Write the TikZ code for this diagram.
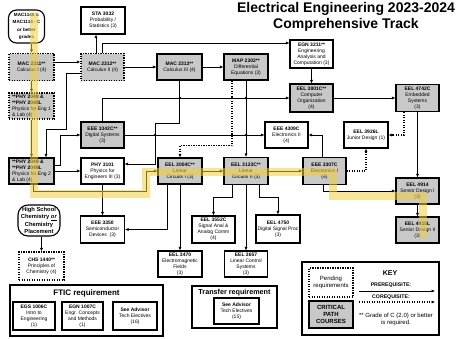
\documentclass[tikz,border=0pt]{standalone}
\usepackage{fontspec}
\setmainfont{Liberation Sans}
\usetikzlibrary{arrows.meta}
\definecolor{critgray}{RGB}{200,200,200}
\definecolor{hl}{RGB}{240,205,60}
\begin{document}
\begin{tikzpicture}[x=1pt,y=-1pt,
  box/.style={draw, line width=1.1pt, align=center, inner sep=0pt, minimum width=44pt, minimum height=26pt, fill=white, font=\fontsize{5}{6}\selectfont},
  crit/.style={box, fill=critgray},
  dbox/.style={box, dash pattern=on 1.4pt off 1.1pt, line width=1.3pt},
  dcrit/.style={dbox, fill=critgray},
  rbox/.style={draw, line width=1.1pt, rounded corners=8pt, align=center, inner sep=0pt, fill=white, font=\fontsize{4.6}{7.3}\selectfont\bfseries},
  outerbox/.style={draw, line width=1.3pt, inner sep=0pt},
  arr/.style={draw, line width=1pt, -{Latex[length=3.5pt,width=3.2pt]}},
  coarr/.style={arr, dash pattern=on 1.3pt off 1.2pt, line width=1.2pt},
  jdot/.style={fill=black},
  ttl/.style={font=\fontsize{14}{16}\selectfont\bfseries, anchor=base, inner sep=0pt}
]
\useasboundingbox (0,0) rectangle (474,338);

% title
\node[ttl] (t1) at (346,12) {Electrical Engineering 2023-2024};
\node[ttl] (t2) at (346,28.5) {Comprehensive Track};

% course boxes
\node[rbox, minimum width=36pt, minimum height=33pt] (mac1140) at (26.5,26.5) {MAC1140 \&\\MAC1114 - C\\or better\\grades};
\node[box, minimum height=27pt] (sta) at (103,20.5) {\textbf{STA 3032}\\Probability /\\Statistics (3)};
\node[dcrit, minimum width=45pt, minimum height=27pt] (mac2311) at (31.5,67) {\textbf{MAC 2311**}\\Calculus I (4)};
\node[dcrit, minimum width=43pt, minimum height=27pt] (mac2312) at (102.5,67) {\textbf{MAC 2312**}\\Calculus II (4)};
\node[crit, minimum width=45pt] (mac2313) at (179.5,67) {\textbf{MAC 2313**}\\Calculus III (4)};
\node[crit] (map2302) at (246,67) {\textbf{MAP 2302**}\\Differential\\Equations (3)};
\node[box, minimum width=43pt, minimum height=28pt] (egn3211) at (311.5,54) {\textbf{EGN 3211**}\\Engineering\\Analysis and\\Computation (3)};
\node[crit, minimum width=43pt, minimum height=28pt] (eel3801) at (311.5,98) {\textbf{EEL 3801C**}\\Computer\\Organization\\(4)};
\node[crit, minimum width=43pt, minimum height=27pt] (eel4742) at (417.5,98) {\textbf{EEL 4742C}\\Embedded\\Systems\\(3)};
\node[dcrit, minimum width=45pt, align=left] (phy2048) at (31.5,106) {\textbf{**PHY 2048 \&}\\\textbf{**PHY 2048L}\\Physics for Eng 1\\\& Lab (4)};
\node[crit, minimum width=43pt] (eee3342) at (102.5,135) {\textbf{EEE 3342C**}\\Digital Systems\\(3)};
\node[box, minimum width=43pt] (eee4309) at (286.5,135) {\textbf{EEE 4309C}\\Electronics II\\(4)};
\node[box] (eel3926) at (366,135) {\textbf{EEL 3926L}\\Junior Design (1)};
\node[crit, minimum width=45pt, align=left] (phy2049) at (31.5,171) {\textbf{**PHY 2049 \&}\\\textbf{**PHY 2049L}\\Physics for Eng 2\\\& Lab (4)};
\node[box, minimum width=43pt] (phy3101) at (102.5,171) {\textbf{PHY 3101}\\Physics for\\Engineers III (3)};
\node[crit] (eel3004) at (180,171) {\textbf{EEL 3004C**}\\Linear\\Circuits I (3)};
\node[crit, minimum height=27pt] (eel3123) at (246,171) {\textbf{EEL 3123C**}\\Linear\\Circuits II (3)};
\node[crit, minimum width=43pt, minimum height=27pt] (eee3307) at (324.5,171) {\textbf{EEE 3307C}\\Electronics I\\(4)};
\node[crit, minimum width=43pt] (eel4914) at (417.5,191) {\textbf{EEL 4914}\\Senior Design I\\(3)};
\node[crit, minimum width=43pt] (eel4915) at (417.5,230) {\textbf{EEL 4915L}\\Senior Design II\\(3)};
\node[rbox, rounded corners=10pt, minimum width=42pt, minimum height=31pt, font=\fontsize{5.8}{7.5}\selectfont\bfseries] (hschem) at (39,220.5) {High School\\Chemistry \underline{\textit{or}}\\Chemistry\\Placement};
\node[box, minimum height=27pt] (eee3350) at (102.5,229.5) {\textbf{EEE 3350}\\Semiconductor\\Devices\ \ (3)};
\node[box, minimum width=43pt, minimum height=27pt] (eel3552) at (213.5,229.5) {\textbf{EEL 3552C}\\Signal Anal \&\\Analog Comm\\(4)};
\node[box, minimum height=28pt] (eel4750) at (278,229) {\textbf{EEL 4750}\\Digital Signal Proc\\(3)};
\node[dbox, minimum width=45pt, minimum height=28pt] (chs1440) at (41.5,266) {\textbf{CHS 1440**}\\Principles of\\Chemistry (4)};
\node[box] (eel3470) at (180,264) {\textbf{EEL 3470}\\Electromagnetic\\Fields\\(3)};
\node[box, minimum width=43pt] (eel3657) at (246,264) {\textbf{EEL 3657}\\Linear Control\\Systems\\(3)};

% FTIC
\node[outerbox, minimum width=153pt, minimum height=51pt] (ftic) at (86.5,310.5) {};
\node[font=\fontsize{8}{9}\selectfont\bfseries, inner sep=0pt] (ftict) at (86.5,293) {FTIC requirement};
\node[box, minimum width=42pt, minimum height=28pt] (egs1006) at (34,316) {\textbf{EGS 1006C}\\Intro to\\Engineering\\(1)};
\node[box, minimum width=41pt, minimum height=28pt] (egn1007) at (82.5,316) {\textbf{EGN 1007C}\\Engr. Concepts\\and Methods\\(1)};
\node[box, minimum width=44pt, minimum height=28pt] (adv16) at (135,316) {\textbf{See Advisor}\\Tech Electives\\(16)};

% Transfer
\node[outerbox, minimum width=85pt, minimum height=42pt] (transfer) at (234.5,307) {};
\node[font=\fontsize{7.2}{8}\selectfont\bfseries, inner sep=0pt] (transt) at (234.5,292.5) {Transfer requirement};
\node[box, minimum width=45pt, minimum height=26pt] (adv15) at (236.5,311) {\textbf{See Advisor}\\Tech Electives\\(15)};

% Key
\node[outerbox, minimum width=137pt, minimum height=73pt] (key) at (370.5,298.5) {};
\node[dbox, minimum width=44pt, minimum height=29pt, font=\fontsize{6}{7}\selectfont] (pending) at (331,282.5) {Pending\\requirements};
\node[crit, minimum width=44pt, minimum height=27pt, font=\fontsize{6}{7}\selectfont\bfseries] (critical) at (331,314.5) {CRITICAL\\PATH\\COURSES};
\node[font=\fontsize{7}{8}\selectfont\bfseries, inner sep=0pt] (keyt) at (390,273) {KEY};
\node[font=\fontsize{5.2}{6}\selectfont\bfseries, inner sep=0pt] (pret) at (391,285) {PREREQUISITE:};
\node[font=\fontsize{5.2}{6}\selectfont\bfseries, inner sep=0pt] (cot) at (391,297) {COREQUISITE:};
\node[font=\fontsize{6}{7}\selectfont, align=center, inner sep=0pt] (note) at (396,319.5) {** Grade of C (2.0) or better\\is required.};
\coordinate (p1) at (359,291);
\coordinate (p2) at (435,291);
\coordinate (c1) at (359,302);
\coordinate (c2) at (435,302);
\draw[arr] (p1) -- (p2);
\draw[coarr] (c1) -- (c2);

% connectors
\draw[arr] (mac1140.south -| mac2311.north) -- (mac2311.north);
\draw[arr] ([yshift=5pt]mac2311.east) -- ([yshift=5pt]mac2312.west);
\draw[arr] ([xshift=-6.5pt]mac2312.north) -- ([xshift=-7pt]sta.south);
\draw[arr] (mac2312.north) |- ([yshift=11pt]egn3211.west);
\draw[arr] (mac2312) -- (mac2313);
\draw[arr] (mac2313) -- (map2302);
\draw[arr] ([yshift=-6pt]mac2312.west) -| (66,129) -| ([xshift=14.5pt]phy2049.north);
\draw[arr] (mac2311) -- (phy2048);
\draw[arr] (phy2048) -- (phy2049);
\draw[arr] ([yshift=6pt]phy2049.east) -- ++(6,0) |- (eee3342.west);
\draw[arr] (phy2049) -- (phy3101);
\draw[arr] ([xshift=1.5pt]phy2049.south) |- (146,191) |- (eel3004.west);
\draw[arr] (mac2313.south) |- (155,123) |- ([yshift=7pt]phy3101.east);
\draw[arr] (eee3342.north) |- (eel3801.west);
\draw[arr] (eee3342) -- (eee4309);
\draw[coarr] ([xshift=-14pt]map2302.south) -- ++(0,65) -| (eel3004.north);
\draw[arr] (map2302) -- (eel3123);
\draw[arr] (egn3211) -- (eel3801);
\draw[arr] (eel3801) -- (eel4742);
\draw[arr] (eel4742) -- (eel4914);
\draw[coarr] ([xshift=-13.5pt]eel4742.south) |- (eel3926.east);
\draw[coarr] (eee3307.east) -| (eel3926.south);
\draw[arr] ([xshift=-2pt]eee3307.north) |- (eee4309.east);
\draw[arr] (eel3004) -- (eel3123);
\draw[arr] (eel3123) -- (eee3307);
\draw[arr] ([xshift=-1.5pt]eee3307.south) |- (eel4914.west);
\draw[arr] (eel4914) -- (eel4915);
\draw[arr] ([xshift=-14pt]eel3123.south) -- ++(0,12) -| (eel3552.north);
\draw[arr] (eel3123) -- (eel3657);
\draw[arr] ([xshift=13pt]eel3123.south) -- ++(0,12) -| (eel4750.north);
\draw[arr] ([xshift=-13pt]eel3004.south) |- (eee3350.east);
\draw[arr] (eel3004) -- (eel3470);
\draw[arr] (phy3101) -- (eee3350);
\draw[arr] (hschem.south -| chs1440.north) -- (chs1440.north);

% crossing dots
\foreach \px/\py in {180/98, 232/98, 246/98, 155/135, 232/135, 246/135}
  \fill[jdot] (\px,\py) circle (1.3pt);

% critical path highlight
\draw[line width=7.5pt, color=hl, opacity=0.55] (34,13) -- (34,194) -- (146,194) -- (146,172) -- (333,172) -- (333,196) -- (423,196) -- (423,238);
\end{tikzpicture}
\end{document}
